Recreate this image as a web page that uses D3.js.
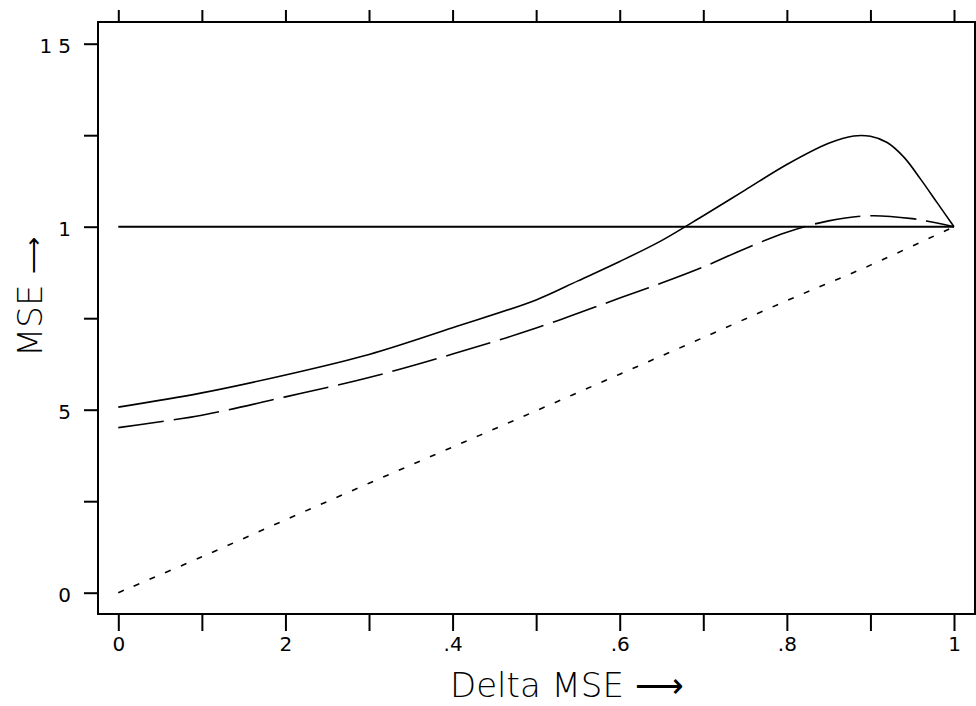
<!DOCTYPE html>
<html>
<head>
<meta charset="utf-8">
<script src="https://cdn.jsdelivr.net/npm/d3@7"></script>
<style>
  body { margin: 0; background: #fff; }
  text { font-family: "DejaVu Sans", sans-serif; fill: #000; }
</style>
</head>
<body>
<div class="chart"></div>
<script>
// x positions of the read-off points
const deltaX = [0, 0.1, 0.2, 0.3, 0.4, 0.5, 0.55, 0.6, 0.65, 0.7, 0.75, 0.8, 0.85, 0.88, 0.9, 0.92, 0.94, 0.96, 0.98, 1];
// solid curve (peaks near .88)
const solidMse = [0.507, 0.546, 0.595, 0.651, 0.724, 0.80, 0.852, 0.905, 0.962, 1.03, 1.10, 1.17, 1.228, 1.248, 1.247, 1.23, 1.19, 1.13, 1.065, 1.0];

const dashX = [0, 0.1, 0.2, 0.3, 0.4, 0.5, 0.6, 0.65, 0.7, 0.75, 0.8, 0.85, 0.9, 0.95, 0.975, 1];
const dashMse = [0.451, 0.485, 0.535, 0.588, 0.652, 0.723, 0.805, 0.846, 0.89, 0.94, 0.985, 1.016, 1.03, 1.022, 1.012, 1.0];

const dotX = [0, 0.1, 0.2, 0.3, 0.4, 0.5, 0.6, 0.7, 0.8, 0.9, 1];
const dotMse = [0, 0.098, 0.199, 0.299, 0.398, 0.497, 0.597, 0.697, 0.798, 0.895, 1];

// reference line at 1
const refX = [0, 1];
const refMse = [1, 1];

// ticks
const xTicks = [0, 0.1, 0.2, 0.3, 0.4, 0.5, 0.6, 0.7, 0.8, 0.9, 1];
const xLabels = {0: "0", 0.2: "2", 0.4: ".4", 0.6: ".6", 0.8: ".8", 1: "1"};
const yTicks = [0, 0.25, 0.5, 0.75, 1, 1.25, 1.5];
const yLabels = {0: "0", 0.5: "5", 1: "1", 1.5: "15"};

const width = 976;
const height = 706;
const frame = {left: 98, top: 22, right: 975, bottom: 614};

const svg = d3.select(".chart")
    .append("svg")
    .attr("width", width)
    .attr("height", height);

const x = d3.scaleLinear().domain([0, 1]).range([118.3, 954]);
const y = d3.scaleLinear().domain([0, 1.5]).range([592.7, 43.7]);

// frame
svg.append("rect")
    .attr("x", frame.left)
    .attr("y", frame.top)
    .attr("width", frame.right - frame.left)
    .attr("height", frame.bottom - frame.top)
    .attr("fill", "none")
    .attr("stroke", "#000")
    .attr("stroke-width", 2);

// bottom axis (ticks out, labels)
const bottomAxis = svg.append("g")
    .attr("transform", `translate(0, ${frame.bottom})`)
    .call(d3.axisBottom(x).tickValues(xTicks).tickSize(17).tickSizeOuter(0)
        .tickFormat(d => xLabels[d] || ""));
bottomAxis.select(".domain").remove();
bottomAxis.selectAll("line").attr("stroke-width", 2);
bottomAxis.selectAll("text")
    .attr("y", 23)
    .attr("dy", "0.71em")
    .attr("fill", "#000")
    .style("font-size", "20px")
    .style("font-family", "DejaVu Sans");

// top axis, ticks only
const topAxis = svg.append("g")
    .attr("transform", `translate(0, ${frame.top})`)
    .call(d3.axisTop(x).tickValues(xTicks).tickSize(12).tickSizeOuter(0).tickFormat(""));
topAxis.select(".domain").remove();
topAxis.selectAll("line").attr("stroke-width", 2);

// left axis
const leftAxis = svg.append("g")
    .attr("transform", `translate(${frame.left}, 0)`)
    .call(d3.axisLeft(y).tickValues(yTicks).tickSize(14).tickSizeOuter(0)
        .tickFormat(d => yLabels[d] || ""));
leftAxis.select(".domain").remove();
leftAxis.selectAll("line").attr("stroke-width", 2);
leftAxis.selectAll("text")
    .attr("x", d => d === 1.5 ? -21 : -27)
    .attr("dy", "0.45em")
    .attr("fill", "#000")
    .style("font-size", "20px")
    .style("font-family", "DejaVu Sans")
    .style("letter-spacing", d => d === 1.5 ? "6px" : null);

// right axis, ticks only (mostly off canvas)
const rightAxis = svg.append("g")
    .attr("transform", `translate(${frame.right}, 0)`)
    .call(d3.axisRight(y).tickValues(yTicks).tickSize(14).tickSizeOuter(0).tickFormat(""));
rightAxis.select(".domain").remove();
rightAxis.selectAll("line").attr("stroke-width", 2);

const line = d3.line()
    .x(d => x(d[0]))
    .y(d => y(d[1]))
    .curve(d3.curveCatmullRom);

const series = [
    {xs: refX, ys: refMse, dash: null, w: 2},
    {xs: deltaX, ys: solidMse, dash: null, w: 1.6},
    {xs: dashX, ys: dashMse, dash: "46,10", w: 1.6},
    {xs: dotX, ys: dotMse, dash: "6,11", w: 1.6}
];

svg.append("g")
    .selectAll("path")
    .data(series)
    .enter()
    .append("path")
    .attr("d", s => line(s.xs.map((v, i) => [v, s.ys[i]])))
    .attr("fill", "none")
    .attr("stroke", "#000")
    .attr("stroke-width", s => s.w)
    .attr("stroke-dasharray", s => s.dash);

// axis titles
svg.append("text")
    .attr("x", 450)
    .attr("y", 697)
    .style("font-size", "34px")
    .style("font-weight", 200)
    .text("Delta MSE \u27F6");

const yTitle = svg.append("text")
    .attr("transform", "translate(42, 357) rotate(-90)")
    .style("font-size", "34px")
    .style("font-weight", 200);
yTitle.append("tspan").text("MSE ");
yTitle.append("tspan").style("font-size", "26px").text("\u27F6");
</script>
</body>
</html>
